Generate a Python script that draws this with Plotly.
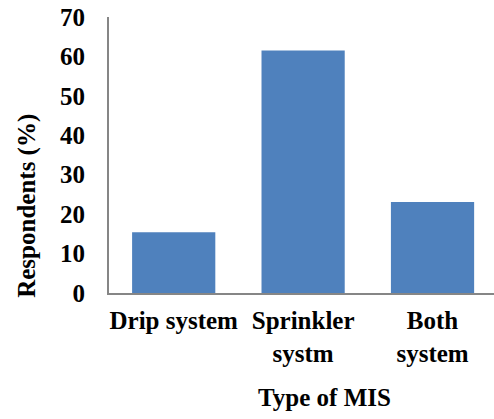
import plotly.graph_objects as go

categories = ["Drip system", "Sprinkler<br>systm", "Both<br>system"]
values = [15.4, 61.5, 23.1]
y_ticks = [0, 10, 20, 30, 40, 50, 60, 70]
x_title = "Type of MIS"
y_title = "Respondents (%)"

font = dict(family="Liberation Serif, Times New Roman, serif", size=25, color="black", weight="bold")

fig = go.Figure(go.Bar(x=categories, y=values, marker_color="#4F81BD",
                       marker_line_width=0, width=0.643, hoverinfo="skip"))

fig.update_layout(
    width=494, height=419,
    margin=dict(l=109, r=0, t=17, b=126, autoexpand=False),
    paper_bgcolor="white", plot_bgcolor="white",
    font=font, showlegend=False,
)
fig.update_xaxes(
    range=[-0.5, 2.475], showline=True, linecolor="#868686", linewidth=2,
    ticks="", tickfont=font, ticklabelstandoff=4, automargin=False,
    ticklabeloverflow="allow",
)
fig.update_yaxes(
    range=[0, 70], tickvals=y_ticks, showline=True, linecolor="#868686",
    linewidth=2, showgrid=False, zeroline=False, ticks="", automargin=False,
    tickfont=font, ticklabelstandoff=17, ticklabeloverflow="allow",
)
fig.add_annotation(text=x_title, xref="paper", yref="paper", x=0.559, y=0,
                   xanchor="center", yanchor="top", yshift=-89,
                   showarrow=False, font=font)
fig.add_annotation(text=y_title, xref="paper", yref="paper", x=0, y=0.316,
                   xanchor="center", yanchor="middle", xshift=-82, textangle=-90,
                   showarrow=False, font=font)

fig.write_html("out.html", config={"displayModeBar": False},
               post_script="document.body.style.margin='0';")
